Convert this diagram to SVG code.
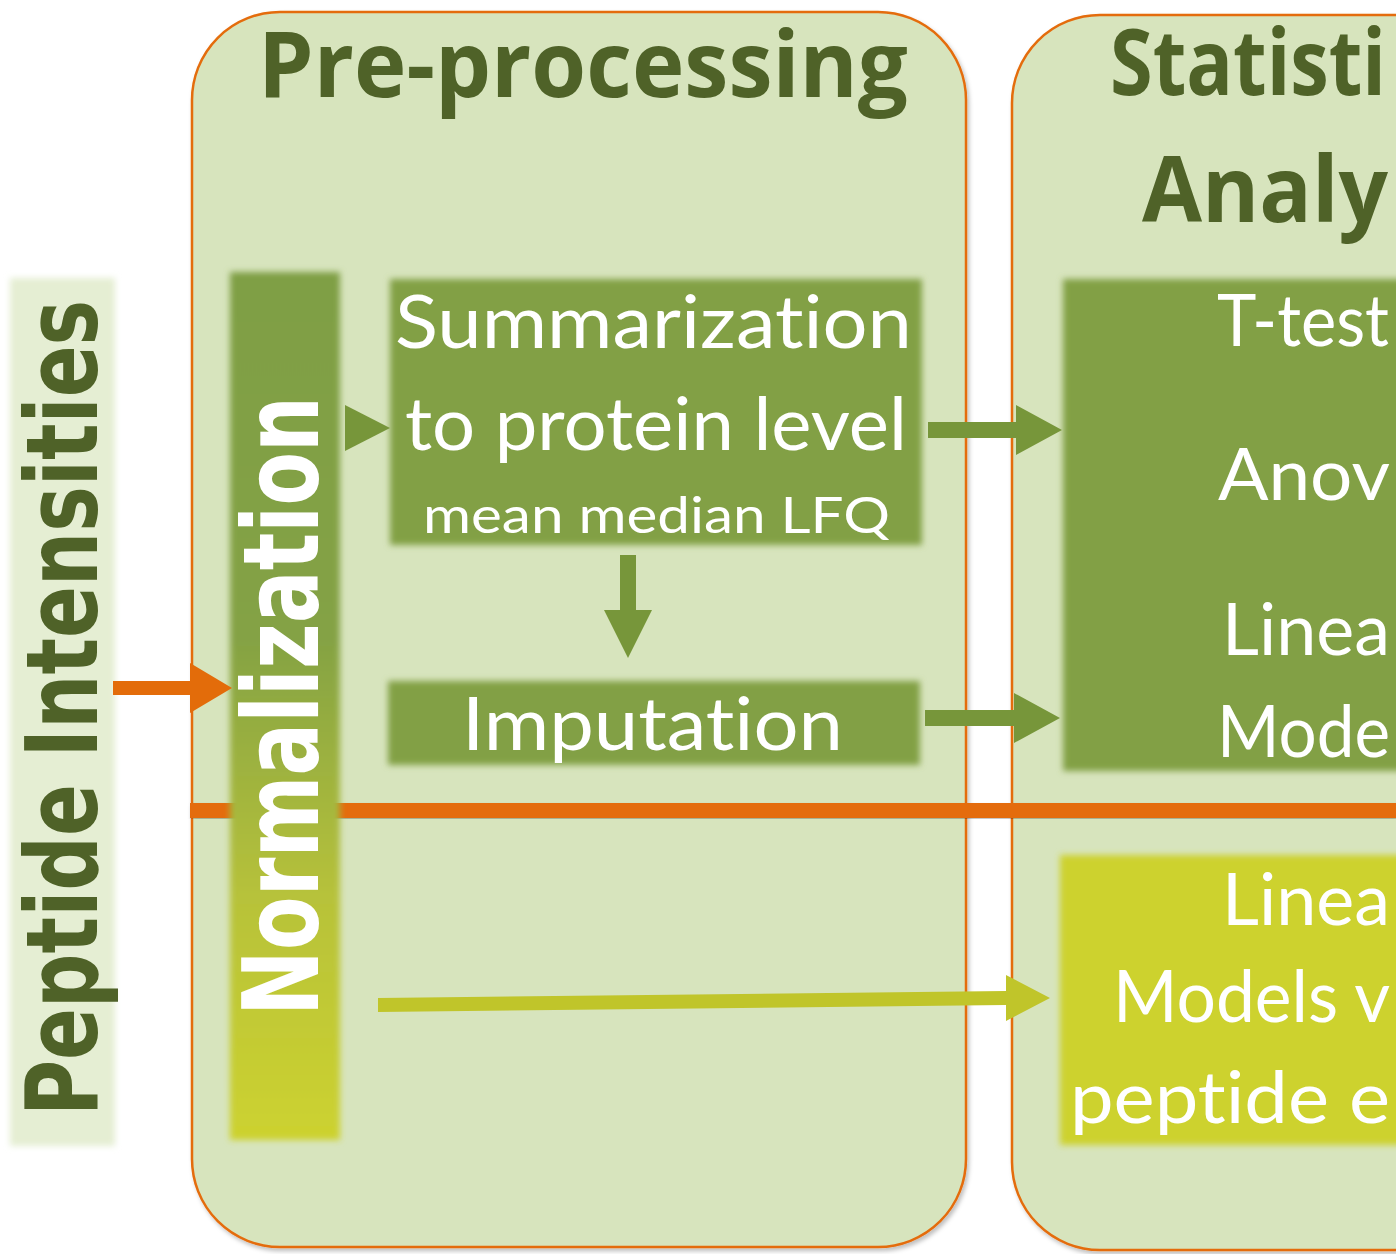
<svg xmlns="http://www.w3.org/2000/svg" width="1396" height="1254" viewBox="0 0 1396 1254">
<defs>
<style>
.panel{fill:#d7e4bd;stroke:#e46c0a;stroke-width:2.5}
.title{font-family:"Open Sans","Liberation Sans",sans-serif;font-weight:bold;fill:#4f6228}
.wt{font-family:"Lato","Open Sans",sans-serif;fill:#ffffff;font-variant-ligatures:none;font-feature-settings:"liga" 0}
.box{fill:#82a044}
.arr{fill:#77963a}
</style>
<filter id="soft" x="-10%" y="-10%" width="120%" height="120%"><feGaussianBlur stdDeviation="3"/></filter>
<filter id="shadow" x="-5%" y="-5%" width="110%" height="110%"><feDropShadow dx="2" dy="3" stdDeviation="2" flood-color="#000" flood-opacity="0.25"/></filter>
<linearGradient id="normGrad" x1="0" y1="0" x2="0" y2="1">
<stop offset="0" stop-color="#7f9f44"/>
<stop offset="0.42" stop-color="#84a244"/>
<stop offset="0.72" stop-color="#b7c23a"/>
<stop offset="1" stop-color="#cdd22f"/>
</linearGradient>
</defs>
<rect width="1396" height="1254" fill="#ffffff"/>

<g id="peptide-intensities">
<rect x="10" y="278" width="105" height="868" fill="#e5eed3" filter="url(#soft)"/>
<text transform="translate(97,1116) rotate(-90)" font-family="'DejaVu Sans',sans-serif" font-weight="bold" font-size="100" fill="#4f6228" textLength="816" lengthAdjust="spacingAndGlyphs">Peptide Intensities</text>
</g>

<g id="preprocessing">
<rect class="panel" x="192" y="12" width="774" height="1235" rx="88" filter="url(#shadow)"/>
<text class="title" x="258" y="97" font-size="92" textLength="650" lengthAdjust="spacingAndGlyphs">Pre-processing</text>
</g>

<g id="statistical-analysis">
<rect class="panel" x="1012" y="15" width="520" height="1235" rx="88" filter="url(#shadow)"/>
<text class="title" x="1110" y="95" font-size="92" textLength="276" lengthAdjust="spacingAndGlyphs">Statisti</text>
<text class="title" x="1142" y="222" font-size="92" textLength="246" lengthAdjust="spacingAndGlyphs">Analy</text>
</g>

<g id="divider">
<rect x="190" y="803" width="1206" height="15" fill="#e46c0a" filter="url(#shadow)"/>
</g>

<g id="normalization">
<rect x="230" y="272" width="110" height="868" fill="url(#normGrad)" filter="url(#soft)"/>
<text transform="translate(318,1016) rotate(-90)" font-family="'DejaVu Sans',sans-serif" font-weight="bold" font-size="106" fill="#ffffff" textLength="620" lengthAdjust="spacingAndGlyphs">Normalization</text>
</g>

<g id="summarization">
<rect class="box" x="390" y="279" width="532" height="266" filter="url(#soft)"/>
<text class="wt" x="395" y="348" font-size="74" textLength="517" lengthAdjust="spacingAndGlyphs">Summarization</text>
<text class="wt" x="405" y="450" font-size="74" textLength="502" lengthAdjust="spacingAndGlyphs">to protein level</text>
<text class="wt" x="423" y="533" font-size="50" textLength="467" lengthAdjust="spacingAndGlyphs">mean median LFQ</text>
</g>

<g id="imputation">
<rect class="box" x="388" y="681" width="532" height="84" filter="url(#soft)"/>
<text class="wt" x="462" y="750" font-size="74" textLength="381" lengthAdjust="spacingAndGlyphs">Imputation</text>
</g>

<g id="protein-tests">
<rect class="box" x="1063" y="279" width="360" height="492" filter="url(#soft)"/>
<text class="wt" x="1217" y="346" font-size="72" textLength="172" lengthAdjust="spacingAndGlyphs">T-test</text>
<text class="wt" x="1218" y="500" font-size="72" textLength="172" lengthAdjust="spacingAndGlyphs">Anov</text>
<text class="wt" x="1222" y="655" font-size="72" textLength="168" lengthAdjust="spacingAndGlyphs">Linea</text>
<text class="wt" x="1217" y="757" font-size="72" textLength="173" lengthAdjust="spacingAndGlyphs">Mode</text>
</g>

<g id="peptide-models">
<rect x="1060" y="855" width="360" height="290" fill="#cdd22f" filter="url(#soft)"/>
<text class="wt" x="1222" y="925" font-size="72" textLength="168" lengthAdjust="spacingAndGlyphs">Linea</text>
<text class="wt" x="1113" y="1022" font-size="72" textLength="277" lengthAdjust="spacingAndGlyphs">Models v</text>
<text class="wt" x="1070" y="1123" font-size="72" textLength="320" lengthAdjust="spacingAndGlyphs">peptide e</text>
</g>

<g id="connectors">
<path d="M113,681 H190 V663 L232,688 L190,713 V695 H113 Z" fill="#e36c0a"/>
<path d="M345,405 L390,428 L345,451 Z" class="arr"/>
<path d="M620,555 H636 V610 H652 L628,658 L604,610 H620 Z" class="arr"/>
<path d="M928,422 H1016 V405 L1062,430 L1016,455 V438 H928 Z" class="arr"/>
<path d="M925,710 H1014 V693 L1060,718 L1014,743 V726 H925 Z" class="arr"/>
<path d="M378,998 L1006,991 V975 L1050,998 L1006,1021 V1005 L378,1012 Z" fill="#c0c52a"/>
</g>
</svg>
